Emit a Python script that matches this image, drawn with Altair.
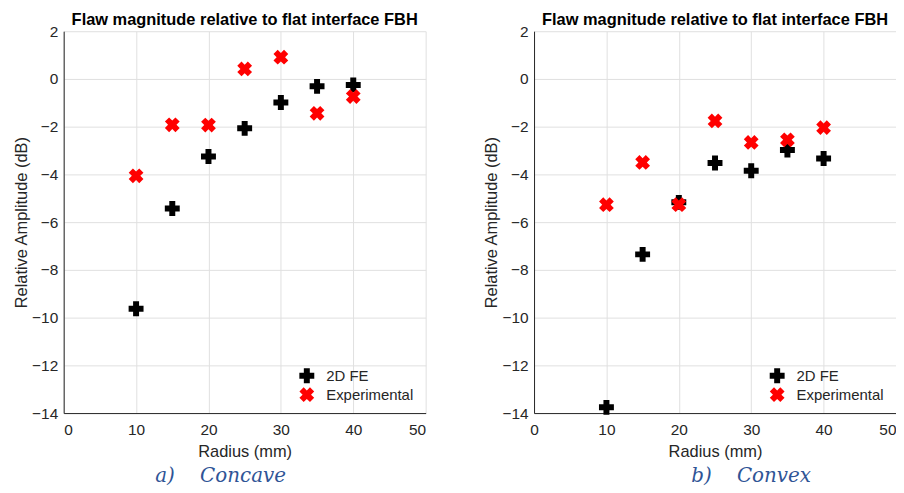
import altair as alt
import pandas as pd

radius = [10, 15, 20, 25, 30, 35, 40]
concave_fe = [-9.63, -5.43, -3.25, -2.07, -0.99, -0.31, -0.25]
concave_exp = [-4.06, -1.92, -1.93, 0.42, 0.91, -1.44, -0.74]
convex_fe = [-13.76, -7.35, -5.17, -3.52, -3.85, -2.98, -3.33]
convex_exp = [-5.27, -3.50, -5.27, -1.76, -2.66, -2.55, -2.04]
series = ["2D FE", "Experimental"]
colors = ["#000000", "#ff0000"]
x_ticks = [0, 10, 20, 30, 40, 50]
y_ticks = [-14, -12, -10, -8, -6, -4, -2, 0, 2]
title_text = "Flaw magnitude relative to flat interface FBH"
captions = ["a)\u00a0\u00a0\u00a0\u00a0Concave", "b)\u00a0\u00a0\u00a0\u00a0Convex"]

PLUS = ("M-1,-0.4H-0.4V-1H0.4V-0.4H1V0.4H0.4V1H-0.4V0.4H-1Z")
XMARK = ("M-0.424,-0.99L0,-0.566L0.424,-0.99L0.99,-0.424L0.566,0L0.99,0.424"
         "L0.424,0.99L0,0.566L-0.424,0.99L-0.99,0.424L-0.566,0L-0.99,-0.424Z")

W, H = 364, 384
FONT = "Liberation Sans"


def panel(fe, exp, caption, cap_x, flush_last):
    df = pd.DataFrame({
        "Radius": radius + radius,
        "Amp": fe + exp,
        "Series": [series[0]] * len(radius) + [series[1]] * len(radius),
    })
    leg = alt.Legend(title=None, orient="none", legendX=237, legendY=339,
                     labelFontSize=15, labelFont=FONT, labelColor="#262626",
                     symbolSize=225, symbolStrokeWidth=0, labelOffset=12,
                     rowPadding=3, padding=0)
    xaxis_kw = dict(values=x_ticks, title="Radius (mm)", labelPadding=10, titlePadding=5)
    if flush_last:
        xaxis_kw["labelAlign"] = {"condition": {"test": "datum.value == 50", "value": "right"},
                                  "value": "center"}
    pts = alt.Chart(df).mark_point(filled=True, opacity=1, size=225, strokeWidth=0).encode(
        x=alt.X("Radius:Q", scale=alt.Scale(domain=[0, 50], nice=False),
                axis=alt.Axis(**xaxis_kw)),
        y=alt.Y("Amp:Q", scale=alt.Scale(domain=[-14, 2], nice=False),
                axis=alt.Axis(values=y_ticks, title="Relative Amplitude (dB)")),
        color=alt.Color("Series:N", scale=alt.Scale(domain=series, range=colors), legend=leg),
        shape=alt.Shape("Series:N", scale=alt.Scale(domain=series, range=[PLUS, XMARK]), legend=leg),
        order=alt.Order("Series:N"),
    )
    cap = alt.Chart(pd.DataFrame({"t": [caption]})).mark_text(
        font="DejaVu Serif", fontStyle="italic", fontSize=20, color="#2F5496",
        align="left", baseline="alphabetic"
    ).encode(text="t:N", x=alt.value(cap_x), y=alt.value(453))
    return alt.layer(pts, cap).properties(
        width=W, height=H,
        title=alt.TitleParams(title_text, font=FONT, fontSize=16.5, fontWeight="bold",
                              color="#000000", anchor="middle", frame="group", offset=-4),
    ).resolve_scale(color="independent", shape="independent")


left = panel(concave_fe, concave_exp, captions[0], 92, False)
right = panel(convex_fe, convex_exp, captions[1], 158, True)

chart = alt.hconcat(left, right, spacing=58).resolve_scale(
    color="independent", shape="independent"
).resolve_legend(color="independent", shape="independent").properties(
    padding={"left": 5, "top": 2, "right": 0, "bottom": 0}
).configure_view(
    stroke=None
).configure_axis(
    gridColor="#e0e0e0", gridWidth=1, domainColor="#262626", domainWidth=1,
    labelColor="#262626", titleColor="#262626", labelFont=FONT, titleFont=FONT,
    labelFontSize=15.5, titleFontSize=16.5, titleFontWeight="normal", ticks=False,
    labelPadding=6, titlePadding=2
)

chart.save("out.html", embed_options={"renderer": "svg", "actions": False})
